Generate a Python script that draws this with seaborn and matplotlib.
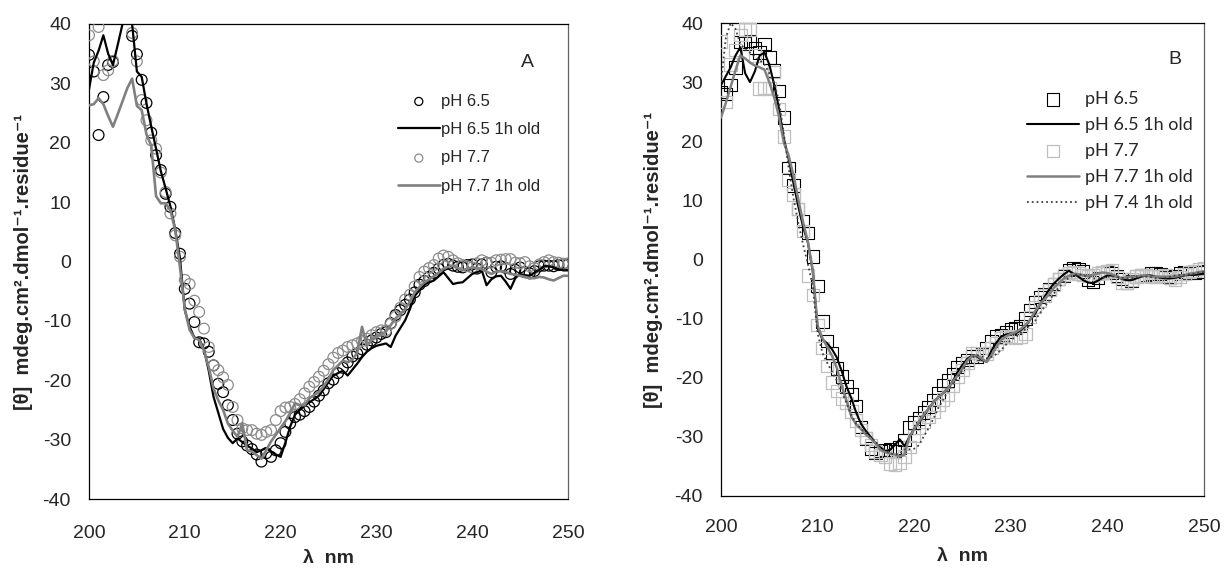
import numpy as np
import matplotlib
matplotlib.use("Agg")
import matplotlib.pyplot as plt
import seaborn as sns

# wavelength grid (nm), 0.5 nm steps as recorded by the instrument
wl = np.arange(200, 250.01, 0.5)

# ---- panel A ----
a_ph65 = [34.8, 32.0, 21.3, 27.7, 33.1, 33.6, 42, 43, 42, 38.0,
          34.9, 30.6, 26.7, 21.7, 17.9, 15.4, 11.4, 9.2, 4.8, 1.3,
          -4.6, -7.1, -10.2, -13.6, -13.8, -15.2, -17.5, -20.6, -22.0, -24.2,
          -26.7, -29.0, -30.3, -31.0, -31.6, -32.5, -33.7, -32.3, -32.9, -31.8,
          -30.6, -28.7, -27.3, -26.2, -25.8, -25.2, -24.5, -23.6, -22.6, -21.7,
          -20.5, -19.9, -18.8, -17.9, -17.0, -16.0, -15.5, -14.8, -14.0, -13.3,
          -12.8, -12.2, -11.9, -10.4, -9.0, -8.2, -7.3, -6.4, -5.2, -3.9,
          -3.3, -2.6, -1.9, -1.2, -0.6, -0.4, -0.7, -0.9, -1.0, -0.6,
          -0.5, -1.2, -0.5, -0.2, -1.8, -0.9, -0.8, -1.1, -2.1, -1.4,
          -1.0, -1.8, -2.0, -1.6, -0.8, -0.7, -0.7, -0.8, -0.6, -0.4, -0.5]
a_ph65_old = [29.0, 33.5, 35.5, 38.1, 35.0, 33.1, 36.5, 40.0, 43, 40.0,
              32.0, 31.1, 26.6, 22.7, 19.0, 15.2, 12.3, 9.3, 5.4, 0.5,
              -8.2, -11.0, -12.8, -13.0, -14.8, -18.4, -22.8, -25.5, -28.2, -29.7,
              -30.6, -29.8, -30.4, -31.0, -31.5, -32.1, -31.8, -31.4, -32.0, -32.5,
              -32.9, -30.5, -27.8, -25.8, -25.0, -24.3, -23.7, -23.2, -22.6, -21.5,
              -20.3, -19.2, -18.8, -18.4, -19.2, -18.2, -17.2, -16.1, -15.2, -14.6,
              -14.2, -14.0, -13.8, -14.4, -12.5, -11.2, -9.9, -8.0, -5.8, -4.8,
              -3.9, -3.5, -3.2, -2.5, -1.8, -2.8, -3.8, -3.6, -3.5, -2.8,
              -2.1, -1.8, -1.5, -4.0, -3.0, -2.5, -2.4, -3.4, -4.6, -2.8,
              -2.1, -2.3, -2.4, -1.9, -1.4, -0.8, -0.8, -1.0, -1.3, -1.5, -1.5]
a_ph77 = [38.1, 33.7, 39.5, 31.4, 32.2, 33.8, 43, 44, 42, 38.5,
          33.7, 27.2, 23.8, 20.4, 19.0, 15.0, 11.7, 8.1, 4.4, 0.8,
          -3.1, -3.8, -6.6, -8.5, -11.3, -14.4, -17.5, -18.3, -19.5, -20.8,
          -24.5, -26.7, -28.1, -28.4, -28.4, -29.0, -29.2, -28.7, -28.4, -26.7,
          -25.2, -24.6, -24.5, -24.0, -23.2, -22.2, -21.1, -20.3, -19.4, -18.4,
          -17.3, -16.2, -15.4, -15.0, -14.4, -14.1, -13.8, -13.4, -13.0, -12.4,
          -11.9, -11.6, -11.6, -10.5, -9.3, -7.8, -6.4, -5.6, -4.2, -2.6,
          -1.7, -1.1, -0.6, 0.5, 1.0, 0.8, 0.2, -0.3, -0.6, -0.8,
          -1.0, -0.3, 0.2, -0.2, -0.2, 0.2, 0.3, 0.4, 0.4, -0.2,
          -0.3, -0.1, -0.8, -1.1, -0.5, -0.1, 0.2, -0.1, -0.2, -0.4, -0.3]
a_ph77_old = [26.3, 26.5, 27.5, 26.5, 24.5, 22.7, 24.8, 27.0, 29.2, 30.8,
              26.2, 25.5, 21.4, 19.5, 11.0, 9.8, 9.8, 8.6, 5.3, -1.0,
              -8.0, -11.5, -12.9, -13.2, -15.0, -17.8, -21.4, -23.4, -25.0, -27.3,
              -28.5, -29.5, -27.3, -31.8, -32.0, -32.6, -33.2, -31.8, -30.3, -29.2,
              -28.0, -26.9, -25.5, -23.9, -24.2, -24.2, -23.0, -22.5, -22.0, -21.0,
              -19.8, -18.3, -17.5, -16.7, -17.0, -16.5, -15.4, -11.0, -14.2, -13.2,
              -12.6, -12.2, -11.8, -10.7, -9.6, -8.8, -8.0, -6.8, -5.2, -4.3,
              -3.5, -3.0, -2.5, -1.9, -1.2, -0.9, -0.7, -1.1, -1.5, -1.2,
              -1.0, -1.1, -1.3, -1.7, -2.1, -1.7, -1.6, -1.8, -2.1, -2.2,
              -2.4, -2.6, -2.8, -2.8, -2.6, -2.7, -3.0, -3.2, -2.8, -2.4, -2.4]

# ---- panel B ----
b_ph65 = [28.3, 28.0, 29.5, 32.5, 36.8, 36.5, 37.0, 35.8, 35.0, 36.4,
          34.2, 32.0, 28.5, 24.0, 15.5, 12.5, 8.5, 6.5, 4.5, 0.5,
          -4.5, -10.5, -13.8, -15.8, -18.4, -19.8, -21.5, -22.8, -24.8, -28.3,
          -30.3, -32.0, -32.7, -32.4, -32.2, -32.1, -32.4, -31.8, -30.5, -28.4,
          -27.6, -26.9, -25.9, -24.9, -23.8, -22.6, -21.2, -20.5, -19.4, -18.2,
          -17.5, -17.0, -16.4, -16.4, -16.0, -15.0, -13.8, -13.0, -12.8, -12.3,
          -11.8, -11.6, -11.2, -10.0, -8.5, -7.2, -6.3, -5.8, -5.0, -4.1,
          -3.3, -2.8, -1.8, -1.5, -1.6, -2.0, -3.5, -3.8, -3.1, -2.3,
          -2.1, -2.3, -2.8, -3.3, -3.9, -3.6, -2.9, -2.7, -2.6, -2.4,
          -2.4, -2.5, -3.0, -3.1, -2.9, -2.4, -2.1, -2.3, -2.2, -2.1, -2.0]
b_ph65_old = [29.5, 31.0, 32.5, 34.5, 35.9, 31.5, 30.0, 31.8, 34.5, 35.0,
              33.0, 29.6, 25.5, 20.5, 17.0, 12.9, 9.0, 5.5, 2.8, -2.0,
              -11.6, -13.5, -14.2, -15.2, -16.6, -18.9, -21.5, -23.5, -25.9, -27.8,
              -29.0, -30.0, -31.1, -31.8, -32.4, -32.2, -31.4, -30.4, -31.6, -30.0,
              -28.6, -27.6, -26.4, -25.2, -24.1, -23.3, -22.6, -21.7, -20.6, -19.0,
              -17.8, -16.8, -16.2, -16.4, -17.0, -17.3, -15.4, -14.1, -13.0, -12.7,
              -12.5, -12.5, -12.0, -11.3, -10.2, -9.2, -7.7, -6.3, -5.0, -4.0,
              -3.2, -2.5, -1.9, -2.4, -2.9, -3.5, -3.9, -4.0, -3.6, -3.1,
              -2.7, -2.7, -2.9, -3.3, -3.5, -3.5, -3.2, -2.9, -2.7, -2.7,
              -2.9, -3.1, -3.2, -3.2, -3.1, -2.9, -2.7, -2.6, -2.6, -2.5, -2.4]
b_ph77 = [36.9, 26.6, 33.0, 35.4, 38.0, 38.9, 38.9, 34.5, 28.9, 29.0,
          28.9, 31.7, 25.5, 20.8, 13.5, 11.0, 8.5, 4.8, -2.7, -6.0,
          -11.1, -15.0, -18.0, -20.8, -22.2, -23.5, -24.3, -25.7, -27.2, -28.8,
          -30.2, -31.4, -32.5, -33.1, -33.3, -34.5, -34.7, -34.3, -33.3, -31.7,
          -29.9, -28.4, -27.4, -26.6, -25.7, -24.6, -23.7, -22.8, -21.3, -19.9,
          -18.7, -17.5, -15.8, -15.8, -16.2, -15.9, -15.0, -14.2, -13.3, -12.9,
          -13.1, -13.2, -13.0, -12.6, -9.7, -8.0, -7.0, -6.1, -5.2, -4.2,
          -3.3, -2.6, -2.3, -2.1, -2.4, -2.6, -2.8, -2.7, -2.4, -2.2,
          -2.0, -1.8, -3.0, -4.0, -3.9, -3.4, -2.9, -2.7, -2.7, -2.9,
          -2.9, -2.8, -2.7, -3.1, -3.5, -3.0, -2.5, -2.1, -1.9, -1.6, -1.5]
b_ph77_old = [24.0, 26.5, 29.2, 32.0, 34.5, 34.0, 33.3, 32.8, 32.5, 32.1,
              30.0, 27.5, 24.2, 19.8, 17.6, 14.2, 10.2, 6.3, 3.0, -1.8,
              -11.2, -13.3, -14.8, -16.3, -18.4, -21.4, -23.9, -26.6, -27.9, -28.7,
              -29.6, -30.3, -31.1, -32.2, -32.6, -32.8, -33.0, -33.3, -33.0, -30.0,
              -28.7, -27.4, -26.2, -25.2, -24.2, -23.3, -22.6, -21.8, -20.7, -19.6,
              -18.4, -17.1, -16.3, -16.2, -16.8, -17.3, -16.2, -14.8, -13.6, -13.0,
              -12.6, -12.3, -11.8, -11.1, -10.2, -8.8, -7.6, -6.7, -5.8, -4.7,
              -4.0, -3.2, -2.8, -2.4, -2.5, -2.7, -2.8, -2.6, -2.4, -2.2,
              -2.3, -2.5, -2.9, -3.2, -3.0, -2.9, -2.9, -2.7, -2.7, -2.9,
              -2.9, -2.9, -2.9, -2.9, -2.9, -2.7, -2.6, -2.4, -2.3, -2.1, -2.0]
b_ph74_old = [30.0, 37.5, 40.0, 39.0, 36.5, 35.5, 35.0, 34.3, 33.7, 33.0,
              31.5, 29.8, 26.8, 21.3, 15.5, 10.4, 6.2, 2.5, -0.8, -4.5,
              -12.5, -15.8, -17.5, -19.0, -20.5, -22.4, -24.3, -26.4, -27.8, -28.6,
              -29.3, -30.0, -30.8, -31.7, -32.3, -32.8, -33.0, -32.8, -32.1, -32.1,
              -32.0, -31.4, -29.9, -28.5, -26.9, -25.1, -23.7, -22.3, -21.1, -19.9,
              -18.7, -17.6, -16.6, -16.2, -16.4, -16.7, -16.5, -16.0, -15.3, -14.4,
              -13.6, -13.1, -12.5, -11.8, -11.1, -10.4, -9.1, -8.0, -6.9, -5.7,
              -4.7, -3.8, -3.1, -2.7, -2.4, -2.7, -3.0, -3.2, -3.2, -3.1,
              -2.9, -2.9, -2.9, -3.1, -3.2, -3.2, -3.0, -2.9, -2.9, -3.0,
              -3.2, -3.2, -3.1, -2.9, -2.7, -2.6, -2.6, -2.5, -2.4, -2.2, -2.1]

ylabel = "[θ]  mdeg.cm².dmol⁻¹.residue⁻¹"
xlabel = "λ  nm"

sns.set_style("white")
plt.rcParams["font.family"] = ["Liberation Sans", "DejaVu Sans"]
plt.rcParams["axes.unicode_minus"] = False

fig = plt.figure(figsize=(12.25, 5.68), dpi=100)
axA = fig.add_axes([89 / 1225, 1 - 499 / 568, 479 / 1225, 475 / 568])
axB = fig.add_axes([721 / 1225, 1 - 496 / 568, 483 / 1225, 473 / 568])

# panel A
sns.scatterplot(x=wl, y=a_ph65, ax=axA, marker="o", s=60, facecolor="none",
                edgecolor="black", linewidth=0.9, label="pH 6.5", zorder=3)
sns.lineplot(x=wl, y=a_ph65_old, ax=axA, color="black", linewidth=1.6,
             estimator=None, label="pH 6.5 1h old", zorder=4)
sns.scatterplot(x=wl, y=a_ph77, ax=axA, marker="o", s=60, facecolor="none",
                edgecolor="#8c8c8c", linewidth=0.9, label="pH 7.7", zorder=3)
sns.lineplot(x=wl, y=a_ph77_old, ax=axA, color="#808080", linewidth=1.9,
             estimator=None, label="pH 7.7 1h old", zorder=4)

# panel B
sns.scatterplot(x=wl, y=b_ph65, ax=axB, marker="s", s=80, facecolor="none",
                edgecolor="black", linewidth=0.8, label="pH 6.5", zorder=3)
sns.lineplot(x=wl, y=b_ph65_old, ax=axB, color="black", linewidth=1.5,
             estimator=None, label="pH 6.5 1h old", zorder=4)
sns.scatterplot(x=wl, y=b_ph77, ax=axB, marker="s", s=80, facecolor="none",
                edgecolor="#bfbfbf", linewidth=0.9, label="pH 7.7", zorder=3)
sns.lineplot(x=wl, y=b_ph77_old, ax=axB, color="#808080", linewidth=1.8,
             estimator=None, label="pH 7.7 1h old", zorder=4)
sns.lineplot(x=wl, y=b_ph74_old, ax=axB, color="#404040", linewidth=1.3,
             linestyle=":", estimator=None, label="pH 7.4 1h old", zorder=4)

for ax, xpad, lx, ly in [(axA, 14, -0.117, -0.108), (axB, 12, -0.12, -0.11)]:
    ax.set_xlim(200, 250)
    ax.set_ylim(-40, 40)
    ax.set_xticks([200, 210, 220, 230, 240, 250])
    ax.set_yticks([-40, -30, -20, -10, 0, 10, 20, 30, 40])
    ax.tick_params(axis="both", direction="out", length=4.5, width=0.9,
                   labelsize=14, color="black")
    ax.tick_params(axis="y", pad=8.5)
    ax.tick_params(axis="x", pad=xpad)
    ax.set_xlabel(xlabel, fontsize=14, fontweight="bold")
    ax.set_ylabel(ylabel, fontsize=14.5, fontweight="bold")
    ax.xaxis.set_label_coords(0.5, ly)
    ax.yaxis.set_label_coords(lx, 0.5)
    for side in ["left", "bottom", "top"]:
        ax.spines[side].set_color("black")
        ax.spines[side].set_linewidth(0.9)
    ax.spines["right"].set_color("#606060")
    ax.spines["right"].set_linewidth(0.9)

axA.text(0.916, 0.918, "A", transform=axA.transAxes, fontsize=14,
         ha="center", va="center")
axB.text(0.94, 0.922, "B", transform=axB.transAxes, fontsize=14,
         ha="center", va="center")

axA.legend(loc="upper left", bbox_to_anchor=(0.645, 0.853), frameon=False,
           fontsize=12, handlelength=2.5, handletextpad=0.1, labelspacing=0.8,
           borderpad=0, borderaxespad=0, markerscale=0.75)
axB.legend(loc="upper left", bbox_to_anchor=(0.633, 0.856), frameon=False,
           prop={"family": "Lato", "size": 13}, handlelength=2.9,
           handletextpad=0.35, labelspacing=0.55, borderpad=0, borderaxespad=0)

fig.savefig("out.png", dpi=100)
